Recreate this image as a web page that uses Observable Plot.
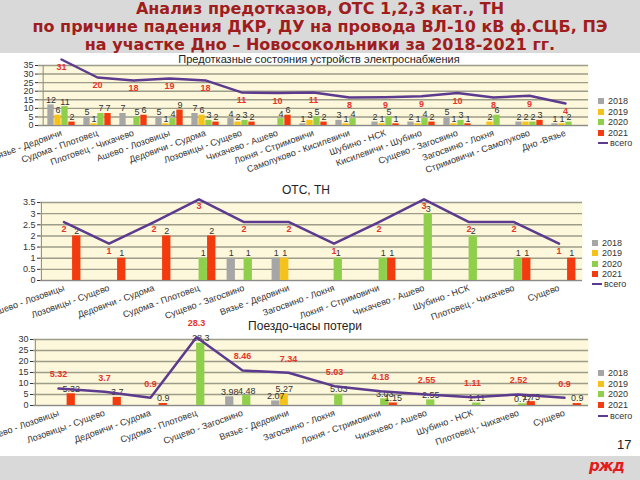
<!DOCTYPE html>
<html><head><meta charset="utf-8">
<script src="https://cdn.jsdelivr.net/npm/d3@7"></script>
<script src="https://cdn.jsdelivr.net/npm/@observablehq/plot@0.6"></script>
<style>
body{margin:0;width:640px;height:480px;position:relative;overflow:hidden;background:#fff;font-family:"Liberation Sans",Arial,sans-serif;}
#header{position:absolute;left:0;top:0;width:640px;height:53px;background:#d9d9d9;}
.hline{position:absolute;left:0;width:640px;text-align:center;font-family:"DejaVu Sans",sans-serif;font-weight:bold;font-size:16px;line-height:18px;color:#a01d1d;white-space:nowrap;}
#footer{position:absolute;left:0;top:456px;width:640px;height:24px;background:#d9d9d9;}
.panel{position:absolute;left:0;}
.panel svg{overflow:visible;}
.ptitle{position:absolute;color:#222;white-space:nowrap;transform:translate(-50%,-50%);}
.leg{position:absolute;font-size:9px;color:#333;white-space:nowrap;}
.leg .row{position:absolute;left:0;height:10px;line-height:10px;}
.leg .sw{position:absolute;left:0;top:2px;width:6px;height:6px;}
.leg .ln{position:absolute;left:0;top:4px;width:10px;height:2px;}
.leg .tx{position:absolute;left:10px;top:0;}
</style></head>
<body>
<div id="header">
  <div class="hline" style="top:0px">Анализ предотказов, ОТС 1,2,3 кат., ТН</div>
  <div class="hline" style="top:18px">по причине падения ДКР, ДУ на провода ВЛ-10 кВ ф.СЦБ, ПЭ</div>
  <div class="hline" style="top:36px">на участке Дно – Новосокольники за 2018-2021 гг.</div>
</div>
<div id="footer"></div>
<div style="position:absolute;left:617px;top:437px;font-size:13px;color:#222;">17</div>
<div style="position:absolute;left:589px;top:457px;font-size:15px;font-weight:bold;font-style:italic;color:#e21b1b;font-family:'DejaVu Sans',sans-serif;letter-spacing:-1px;">ржд</div>
<script>
// ---- shared ----
const seriesNames = ["2018", "2019", "2020", "2021"];
const seriesColors = ["#a6a6a6", "#f5c21b", "#8fcf4c", "#f23b0e"];
const lineName = "всего";
const lineColor = "#5c3a8e";
const totalColor = "#e5352b";

// ---- panel 1: Предотказные состояния устройств электроснабжения ----
const title1 = "Предотказные состояния устройств электроснабжения";
const cats1 = ["Вязье - Дедовичи", "Судома - Плотовец", "Плотовец - Чихачево", "Ашево - Лозовицы",
  "Дедовичи - Судома", "Лозовицы - Сущево", "Чихачево - Ашево", "Локня - Стримовичи",
  "Самолуково - Кисилевичи", "Шубино - НСК", "Кисилевичи - Шубино", "Сущево - Загосвино",
  "Загосвино - Локня", "Стримовичи - Самолуково", "Дно -Вязье"];
const p1_2018 = [12, 5, 7, 5, 7, 4, 0, 1, 3, 2, 2, 5, 0, 2, 1];
const p1_2019 = [6, 1, 0, 1, 6, 2, 0, 3, 1, 1, 1, 1, 2, 2, 1];
const p1_2020 = [11, 7, 5, 4, 3, 3, 4, 5, 4, 5, 4, 3, 6, 2, 2];
const p1_2021 = [2, 7, 6, 9, 2, 2, 6, 2, 0, 1, 2, 1, 0, 3, 0];
const p1_total = [31, 20, 18, 19, 18, 11, 10, 11, 8, 9, 9, 10, 8, 9, 4];
// "всего" line as drawn against the left axis (secondary-axis placement in the source)
const p1_line = [38.5, 28, 26.3, 27.4, 26.3, 19.3, 18.9, 19.3, 16.3, 16.5, 17, 19, 16.3, 17.3, 12.8];
const p1_ticks = [0, 5, 10, 15, 20, 25, 30, 35];

// ---- panel 2: ОТС, ТН ----
const title2 = "ОТС, ТН";
const cats23 = ["Ашево - Лозовицы", "Лозовицы - Сущево", "Дедовичи - Судома", "Судома - Плотовец",
  "Сущево - Загосвино", "Вязье - Дедовичи", "Загосвино - Локня", "Локня - Стримовичи",
  "Чихачево - Ашево", "Шубино - НСК", "Плотовец - Чихачево", "Сущево"];
const p2_2018 = [0, 0, 0, 0, 1, 1, 0, 0, 0, 0, 0, 0];
const p2_2019 = [0, 0, 0, 0, 0, 1, 0, 0, 0, 0, 0, 0];
const p2_2020 = [0, 0, 0, 1, 1, 0, 1, 1, 3, 2, 1, 0];
const p2_2021 = [2, 1, 2, 2, 0, 0, 0, 1, 0, 0, 1, 1];
const p2_total = [2, 1, 2, 3, 2, 2, 1, 2, 3, 2, 2, 1];
const p2_line = [2.62, 1.65, 2.62, 3.64, 2.62, 2.62, 1.65, 2.62, 3.64, 2.62, 2.62, 1.65];
const p2_ticks = [0, 0.5, 1, 1.5, 2, 2.5, 3, 3.5];

// ---- panel 3: Поездо-часы потери ----
const title3 = "Поездо-часы потери";
const p3_2018 = [0, 0, 0, 0, 3.98, 2.07, 0, 0, 0, 0, 0, 0];
const p3_2019 = [0, 0, 0, 0, 0, 5.27, 0, 0, 0, 0, 0, 0];
const p3_2020 = [0, 0, 0, 28.3, 4.48, 0, 5.03, 3.03, 2.55, 1.11, 0.77, 0];
const p3_2021 = [5.32, 3.7, 0.9, 0, 0, 0, 0, 1.15, 0, 0, 1.75, 0.9];
const p3_total = [5.32, 3.7, 0.9, 28.3, 8.46, 7.34, 5.03, 4.18, 2.55, 1.11, 2.52, 0.9];
const p3_line = [7.7, 6.3, 3.5, 31, 15.9, 14.9, 8.8, 6.5, 5, 3.8, 5, 3.5];
const p3_ticks = [0, 5, 10, 15, 20, 25, 30];

function panel(cfg) {
  const W = 640;
  const {top, height, mL, mR, mT, mB, cats, series, total, line, ticks, bw, labelDy} = cfg;
  const step = (W - mL - mR) / cats.length;
  const marks = [
    Plot.frame({fill: "#fdf8dc", stroke: null}),
    Plot.ruleY(ticks, {stroke: "#9c9c88", strokeWidth: 1.4})
  ];
  series.forEach((vals, i) => {
    const d = cats.map((c, k) => ({c, v: vals[k]})).filter(e => e.v > 0);
    marks.push(Plot.barY(d, {x: "c", y: "v", fill: seriesColors[i],
      insetLeft: step / 2 + (i - 2) * bw, insetRight: step / 2 - (i - 1) * bw}));
  });
  marks.push(Plot.ruleY([0], {stroke: "#8a8a8a"}));
  marks.push(Plot.ruleX([cats[0]], {dx: -step / 2, stroke: "#8a8a8a"}));
  series.forEach((vals, i) => {
    const d = cats.map((c, k) => ({c, v: vals[k]})).filter(e => e.v > 0);
    marks.push(Plot.text(d, {x: "c", y: "v", text: e => String(e.v), dx: (i - 1.5) * bw, dy: -5,
      fill: "#333", fontSize: 9}));
  });
  const ld = cats.map((c, k) => ({c, v: line[k], t: String(total[k])}));
  marks.push(Plot.line(ld, {x: "c", y: "v", stroke: lineColor, strokeWidth: 2.5}));
  marks.push(Plot.text(ld, {x: "c", y: "v", text: "t", dy: labelDy, fill: totalColor, fontSize: 9, fontWeight: "bold"}));
  const svg = Plot.plot({
    width: W, height, marginLeft: mL, marginRight: mR, marginTop: mT, marginBottom: mB,
    style: {fontFamily: "'Liberation Sans', Arial, sans-serif", fontSize: "9px", color: "#333", background: "transparent", overflow: "visible"},
    x: {domain: cats, padding: 0, tickRotate: -20, tickSize: 0, tickPadding: 7, label: null},
    y: {domain: [0, ticks[ticks.length - 1]], ticks, tickSize: 3, tickPadding: 2, label: null, tickFormat: d => String(d)},
    marks
  });
  const div = document.createElement("div");
  div.className = "panel";
  div.style.top = top + "px";
  div.appendChild(svg);
  document.body.appendChild(div);
}

function title(text, x, y, size) {
  const t = document.createElement("div");
  t.className = "ptitle";
  t.style.left = x + "px"; t.style.top = y + "px"; t.style.fontSize = size + "px";
  t.textContent = text;
  document.body.appendChild(t);
}

function legend(x, y, gap) {
  const L = document.createElement("div");
  L.className = "leg";
  L.style.left = x + "px"; L.style.top = y + "px";
  seriesNames.forEach((n, i) => {
    const r = document.createElement("div");
    r.className = "row"; r.style.top = (i * gap) + "px";
    r.innerHTML = `<span class="sw" style="background:${seriesColors[i]}"></span><span class="tx">${n}</span>`;
    L.appendChild(r);
  });
  const r = document.createElement("div");
  r.className = "row"; r.style.top = (4 * gap) + "px";
  r.innerHTML = `<span class="ln" style="background:${lineColor}"></span><span class="tx" style="left:12px">${lineName}</span>`;
  L.appendChild(r);
  document.body.appendChild(L);
}

panel({top: 55, height: 125, mL: 38, mR: 52, mT: 10, mB: 55, cats: cats1,
  series: [p1_2018, p1_2019, p1_2020, p1_2021], total: p1_total, line: p1_line,
  ticks: p1_ticks, bw: 7, labelDy: 8});
panel({top: 185, height: 140, mL: 40, mR: 58, mT: 17, mB: 45, cats: cats23,
  series: [p2_2018, p2_2019, p2_2020, p2_2021], total: p2_total, line: p2_line,
  ticks: p2_ticks, bw: 8.5, labelDy: 7});
panel({top: 330, height: 125, mL: 33, mR: 52, mT: 9, mB: 50, cats: cats23,
  series: [p3_2018, p3_2019, p3_2020, p3_2021], total: p3_total, line: p3_line,
  ticks: p3_ticks, bw: 8.5, labelDy: -14});

title(title1, 319, 59, 11);
title(title2, 306, 190, 12);
title(title3, 305, 326, 12);
legend(598, 96, 10.5);
legend(592, 238, 10.3);
legend(598, 368, 10.7);
</script>
</body></html>
